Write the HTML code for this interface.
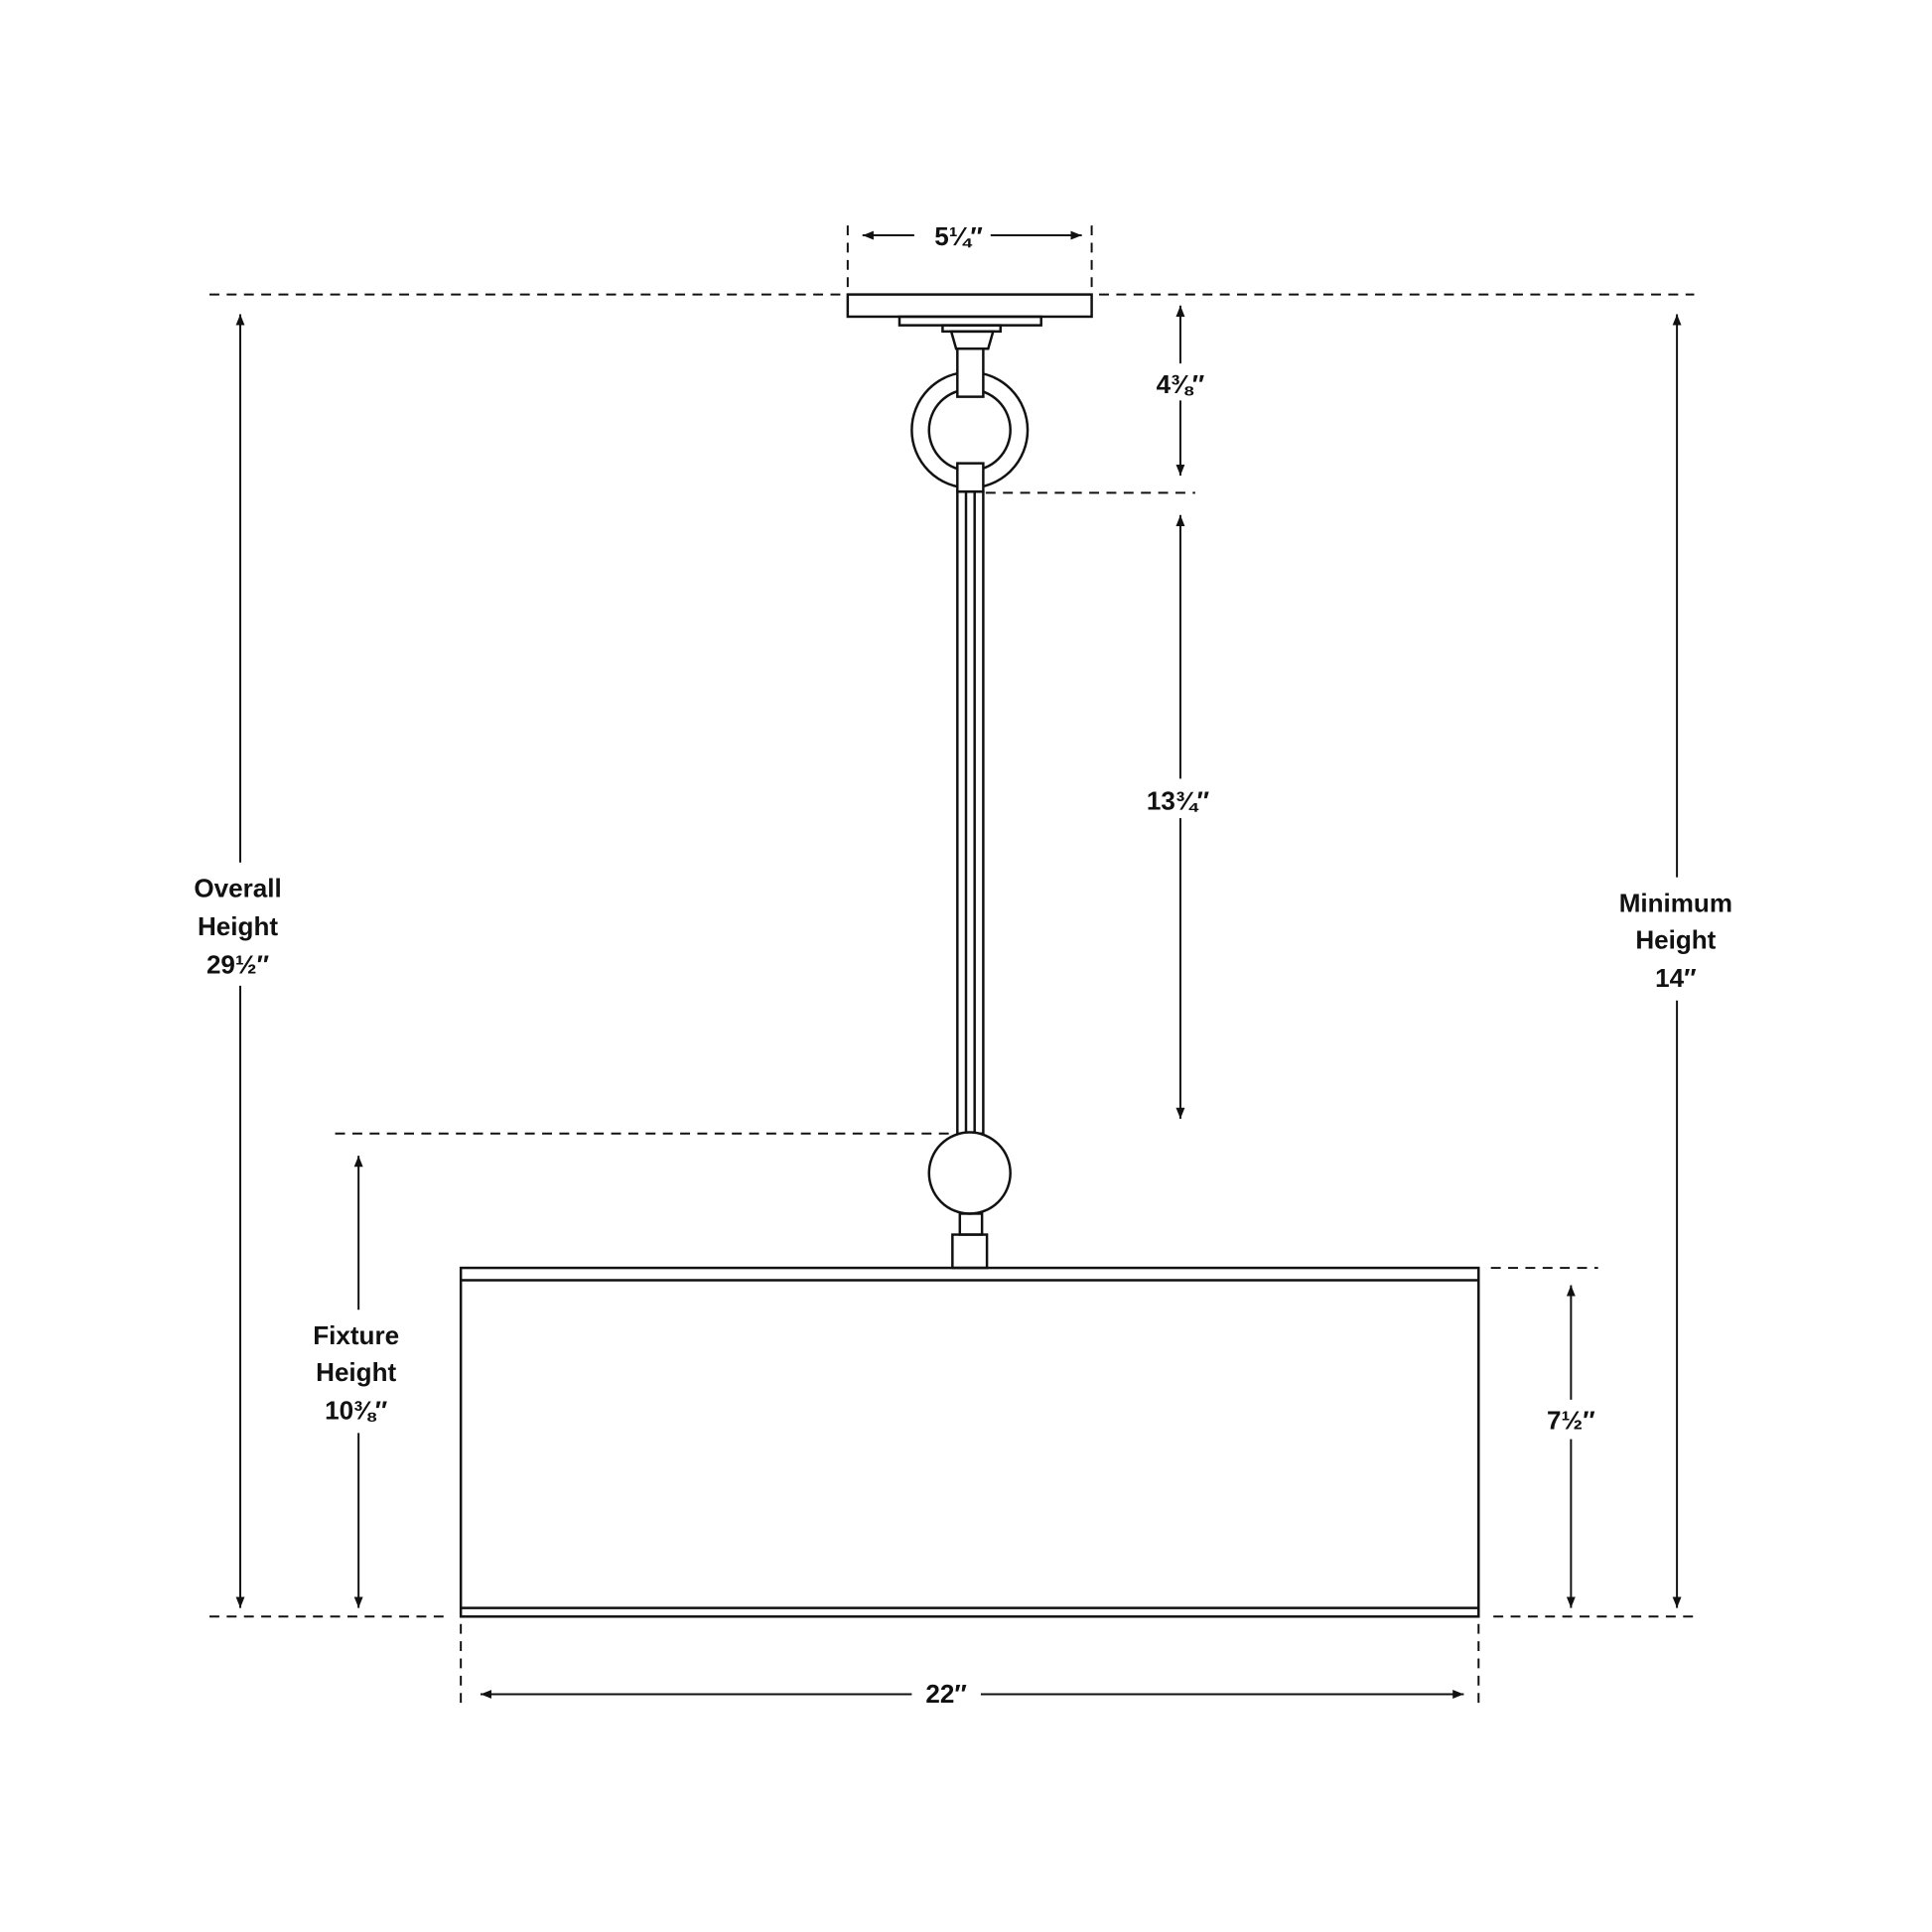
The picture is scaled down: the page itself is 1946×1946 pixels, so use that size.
<!DOCTYPE html>
<html><head><style>html,body{margin:0;padding:0;background:#fff}svg{display:block}</style></head><body>
<svg width="1946" height="1946" viewBox="0 0 1568 1568" xmlns="http://www.w3.org/2000/svg">
<defs><marker id="a" viewBox="0 0 10 10" refX="10" refY="5" markerWidth="9" markerHeight="9" orient="auto-start-reverse" markerUnits="userSpaceOnUse"><path d="M0,1 L10,5 L0,9 Z" fill="#111"/></marker></defs>
<g stroke="#111" stroke-width="2" fill="none">
<g stroke-dasharray="8,6" stroke-width="1.6">
<line x1="170" y1="239" x2="686" y2="239"/><line x1="892" y1="239" x2="1375" y2="239"/>
<line x1="170" y1="1312" x2="365" y2="1312"/><line x1="1212" y1="1312" x2="1375" y2="1312"/>
<line x1="800" y1="400" x2="970" y2="400"/><line x1="272" y1="920" x2="775" y2="920"/>
<line x1="1210" y1="1029" x2="1297" y2="1029"/>
<line x1="688" y1="183" x2="688" y2="235"/><line x1="886" y1="183" x2="886" y2="235"/>
<line x1="374" y1="1318" x2="374" y2="1388"/><line x1="1200" y1="1318" x2="1200" y2="1388"/>
</g>
<g stroke-width="1.6" marker-start="url(#a)" marker-end="url(#a)">
<line x1="195" y1="255" x2="195" y2="1305"/>
<line x1="1361" y1="255" x2="1361" y2="1305"/>
<line x1="291" y1="938" x2="291" y2="1305"/>
<line x1="1275" y1="1043" x2="1275" y2="1305"/>
<line x1="958" y1="248" x2="958" y2="386"/>
<line x1="958" y1="418" x2="958" y2="908"/>
<line x1="700" y1="191" x2="878" y2="191"/>
<line x1="390" y1="1375" x2="1188" y2="1375"/>
</g>
<rect x="688" y="239" width="198" height="18"/>
<rect x="730" y="257" width="115" height="7"/>
<rect x="765" y="264" width="47" height="5"/>
<path d="M772,269 L806,269 L802,283 L776,283 Z"/>
<circle cx="787" cy="349" r="47"/><circle cx="787" cy="349" r="33" fill="#fff"/>
<rect x="777" y="283" width="21" height="39" fill="#fff"/>
<rect x="777" y="376" width="21" height="23" fill="#fff"/>
<rect x="777" y="399" width="21" height="521"/>
<line x1="784" y1="399" x2="784" y2="920"/><line x1="791" y1="399" x2="791" y2="920"/>
<circle cx="787" cy="952" r="33" fill="#fff"/>
<rect x="779" y="985" width="18" height="17"/>
<rect x="773" y="1002" width="28" height="27"/>
<rect x="374" y="1029" width="826" height="283"/>
<line x1="374" y1="1039" x2="1200" y2="1039"/><line x1="374" y1="1305" x2="1200" y2="1305"/>
</g>
<g font-family="Liberation Sans, sans-serif" font-size="21" font-weight="bold" fill="#111" text-anchor="middle">
<rect x="742" y="178" width="62" height="28" fill="#fff"/><text x="778" y="199">5¼″</text>
<rect x="930" y="295" width="56" height="30" fill="#fff"/><text x="958" y="319">4⅜″</text>
<rect x="920" y="632" width="76" height="32" fill="#fff"/><text x="956" y="657">13¾″</text>
<rect x="1245" y="1136" width="60" height="32" fill="#fff"/><text x="1275" y="1160">7½″</text>
<rect x="740" y="1360" width="56" height="30" fill="#fff"/><text x="768" y="1382">22″</text>
<rect x="140" y="700" width="110" height="100" fill="#fff"/>
<text x="193" y="728">Overall</text><text x="193" y="759">Height</text><text x="193" y="790">29½″</text>
<rect x="1300" y="712" width="120" height="100" fill="#fff"/>
<text x="1360" y="740">Minimum</text><text x="1360" y="770">Height</text><text x="1360" y="801">14″</text>
<rect x="240" y="1063" width="100" height="100" fill="#fff"/>
<text x="289" y="1091">Fixture</text><text x="289" y="1121">Height</text><text x="289" y="1152">10⅜″</text>
</g>
</svg>
</body></html>
